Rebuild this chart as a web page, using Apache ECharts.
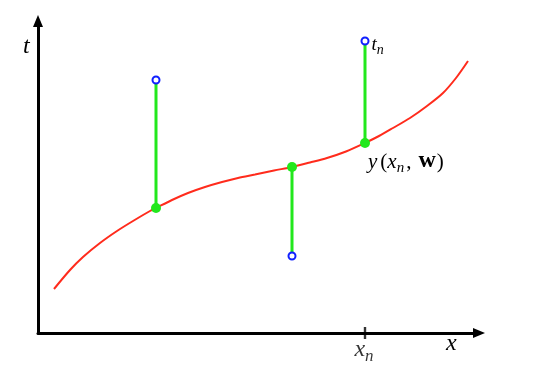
<!DOCTYPE html>
<html>
<head>
<meta charset="utf-8">
<script src="https://cdn.jsdelivr.net/npm/echarts@6/dist/echarts.min.js"></script>
<style>html,body{margin:0;padding:0;background:#fff}#c{width:535px;height:376px}</style>
</head>
<body>
<div id="c"></div>
<script>
// Fitted curve y(x, w)
const curveX = [16, 32, 45, 62, 79, 95, 112, 118, 134, 150, 167, 184, 200, 217, 236, 254, 272, 289, 308, 327, 341, 355, 372, 389, 405, 418, 430];
const curveY = [44, 63, 76, 90, 102, 112, 122, 125, 133, 140, 146, 151, 155, 158.5, 162.5, 166, 170.5, 175, 181.5, 190, 197, 205, 215, 227, 240, 255, 272];
// Observations: input x_n, fitted value y(x_n,w), target t_n
const obsX = [118, 254, 327];
const obsFit = [125, 166, 190];
const obsT = [253, 77, 292];
const labelIndex = 2; // point that carries the x_n / t_n labels

const RED = '#ff2b1c', GREEN = '#22e81c', BLUE = '#1020ff';
const SERIF = '"Liberation Serif", "DejaVu Serif", serif';

function richSet(main, sub, lhMain, lhSub, drop) {
  const base = {fontFamily: SERIF, fontSize: main, lineHeight: lhMain, verticalAlign: 'bottom', color: '#000'};
  return {
    i: Object.assign({}, base, {fontStyle: 'italic'}),
    iy: Object.assign({}, base, {fontStyle: 'italic', padding: [0, 3, 0, 0]}),
    r: Object.assign({}, base),
    c: Object.assign({}, base, {padding: [0, 7, 0, 0]}),
    b: Object.assign({}, base, {fontWeight: 'bold', fontSize: main + 3, padding: [0, 1, 0, 0]}),
    s: Object.assign({}, base, {fontStyle: 'italic', fontSize: sub, lineHeight: lhSub, padding: [0, 2, -drop, 0]})
  };
}

const series = [];
series.push({
  type: 'line', smooth: 0.3, showSymbol: false, silent: true,
  data: curveX.map((x, k) => [x, curveY[k]]),
  lineStyle: {color: RED, width: 2}, z: 2
});
obsX.forEach((x, k) => {
  series.push({
    type: 'line', showSymbol: false, silent: true,
    data: [[x, obsFit[k]], [x, obsT[k]]],
    lineStyle: {color: GREEN, width: 3}, z: 3
  });
});
series.push({
  type: 'scatter', symbol: 'circle', symbolSize: 10, z: 4,
  itemStyle: {color: GREEN, opacity: 1},
  data: obsX.map((x, k) => ({
    value: [x, obsFit[k]],
    label: k === labelIndex ? {
      show: true, position: [8, 9], align: 'left', verticalAlign: 'top',
      formatter: '{iy|y}{r|(}{i|x}{s|n}{c|,}{b|w}{r|)}', rich: richSet(21, 15, 26, 14, 3)
    } : {show: false}
  }))
});
series.push({
  type: 'scatter', symbol: 'circle', symbolSize: 7, z: 5,
  itemStyle: {color: '#fff', borderColor: BLUE, borderWidth: 2, opacity: 1},
  data: obsX.map((x, k) => ({
    value: [x, obsT[k]],
    label: k === labelIndex ? {
      show: true, position: 'right', distance: 2,
      formatter: '{i|t}{s|n}', rich: richSet(19, 14, 26, 12, 3)
    } : {show: false}
  }))
});
// x_n tick mark on the horizontal axis
series.push({
  type: 'scatter', symbol: 'rect', symbolSize: [2.4, 12], clip: false, z: 6,
  itemStyle: {color: '#000'},
  data: [{
    value: [obsX[labelIndex], 0],
    label: {show: true, position: [1.2, 7], align: 'center', verticalAlign: 'top',
      formatter: '{i|x}{s|n}', rich: richSet(24, 17, 28, 14, 3)}
  }]
});

const chart = echarts.init(document.getElementById('c'), null, {renderer: 'canvas'});
chart.setOption({
  animation: false,
  backgroundColor: '#fff',
  grid: {left: 38, right: 56, top: 21, bottom: 43},
  xAxis: {
    type: 'value', min: 0, max: 441,
    axisLine: {show: true, onZero: false, symbol: ['none', 'triangle'], symbolSize: [10, 12],
      lineStyle: {color: '#000', width: 3}},
    axisTick: {show: false}, axisLabel: {show: false}, splitLine: {show: false}
  },
  yAxis: {
    type: 'value', min: 0, max: 312,
    axisLine: {show: true, onZero: false, symbol: ['none', 'triangle'], symbolSize: [10, 12],
      lineStyle: {color: '#000', width: 3}},
    axisTick: {show: false}, axisLabel: {show: false}, splitLine: {show: false}
  },
  graphic: [
    {type: 'text', left: 23, top: 35, style: {text: 't', font: 'italic 24px ' + SERIF, fill: '#000'}},
    {type: 'text', left: 446, top: 332, style: {text: 'x', font: 'italic 24px ' + SERIF, fill: '#000'}}
  ],
  series: series
});
</script>
</body>
</html>
